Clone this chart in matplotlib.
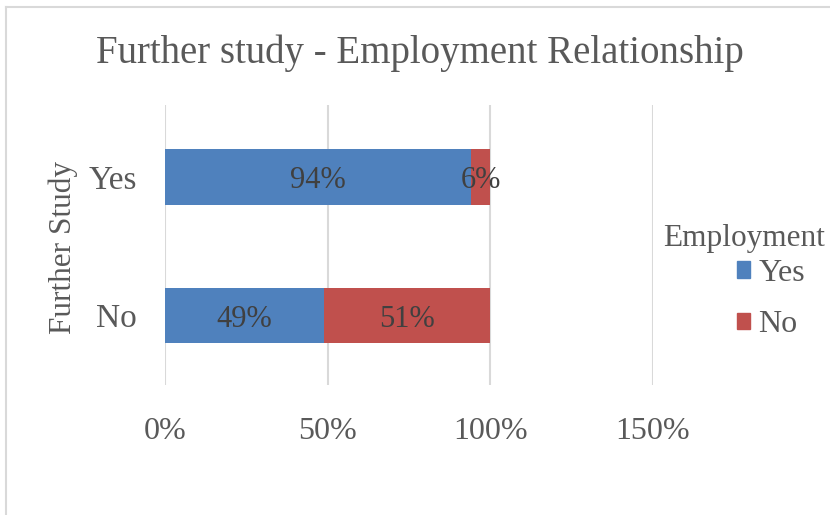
import matplotlib
matplotlib.use("Agg")
import matplotlib.pyplot as plt
from matplotlib.patches import Patch
from matplotlib.lines import Line2D
from matplotlib.ticker import FuncFormatter

plt.rcParams['font.family'] = ['Liberation Serif', 'DejaVu Serif']

further_study = ["Yes", "No"]
employed_yes = [0.94, 0.49]
employed_no = [0.06, 0.51]
x_ticks = [0, 0.5, 1.0, 1.5]

BLUE = "#4F81BD"
RED = "#C0504D"
TEXT = "#595959"
LABEL = "#404040"
GRID = "#D9D9D9"

W, H = 830, 515
fig = plt.figure(figsize=(W / 100, H / 100), dpi=100)

# chart frame
fig.add_artist(Line2D([6 / W, 6 / W], [0, 1 - 7 / H], transform=fig.transFigure,
                      color=GRID, lw=1.5))
fig.add_artist(Line2D([6 / W, 1], [1 - 7 / H, 1 - 7 / H], transform=fig.transFigure,
                      color=GRID, lw=1.5))

ax = fig.add_axes([165 / W, 1 - 385 / H, (653 - 165) / W, (385 - 105) / H])

ypos = list(range(len(further_study)))
bar_h = 0.4
b1 = ax.barh(ypos, employed_yes, height=bar_h, color=BLUE, label="Yes")
b2 = ax.barh(ypos, employed_no, left=employed_yes, height=bar_h, color=RED, label="No")

for bars, vals, lefts in [(b1, employed_yes, [0] * len(ypos)), (b2, employed_no, employed_yes)]:
    for y, v, l in zip(ypos, vals, lefts):
        ax.text(l + v / 2, y, f"{round(v * 100)}%", ha="center", va="center_baseline",
                fontsize=22, color=LABEL)

ax.set_xlim(0, 1.5)
ax.set_ylim(len(ypos) - 0.5, -0.52)
ax.set_xticks(x_ticks)
ax.xaxis.set_major_formatter(FuncFormatter(lambda v, _: f"{round(v * 100)}%"))
ax.set_yticks(ypos)
ax.set_yticklabels(further_study)
ax.tick_params(axis="x", length=0, pad=23, labelsize=23, labelcolor=TEXT)
ax.tick_params(axis="y", length=0, pad=20, labelsize=24, labelcolor=TEXT)
ax.grid(axis="x", color=GRID, lw=1.5)
ax.set_axisbelow(True)
for s in ax.spines.values():
    s.set_visible(False)

fig.text(63 / W, 1 - 248 / H, "Further Study", rotation=90, ha="center", va="center",
         fontsize=22.5, color=TEXT)
fig.text(420 / W, 1 - 53 / H, "Further study - Employment Relationship", ha="center",
         va="center", fontsize=28, color=TEXT)

# legend
fig.text(663 / W, 1 - 238 / H, "Employment", ha="left", va="center", fontsize=22.5, color=TEXT)
leg = ax.legend(handles=[Patch(color=BLUE), Patch(color=RED)], labels=["Yes", "No"],
                loc="center left", bbox_to_anchor=(724 / W, 1 - 299 / H),
                bbox_transform=fig.transFigure, frameon=False, fontsize=23,
                handlelength=0.42, handleheight=0.42, handletextpad=0.25,
                labelspacing=0.7, borderaxespad=0)
for t in leg.get_texts():
    t.set_color(TEXT)

fig.savefig("out.png", dpi=100)
